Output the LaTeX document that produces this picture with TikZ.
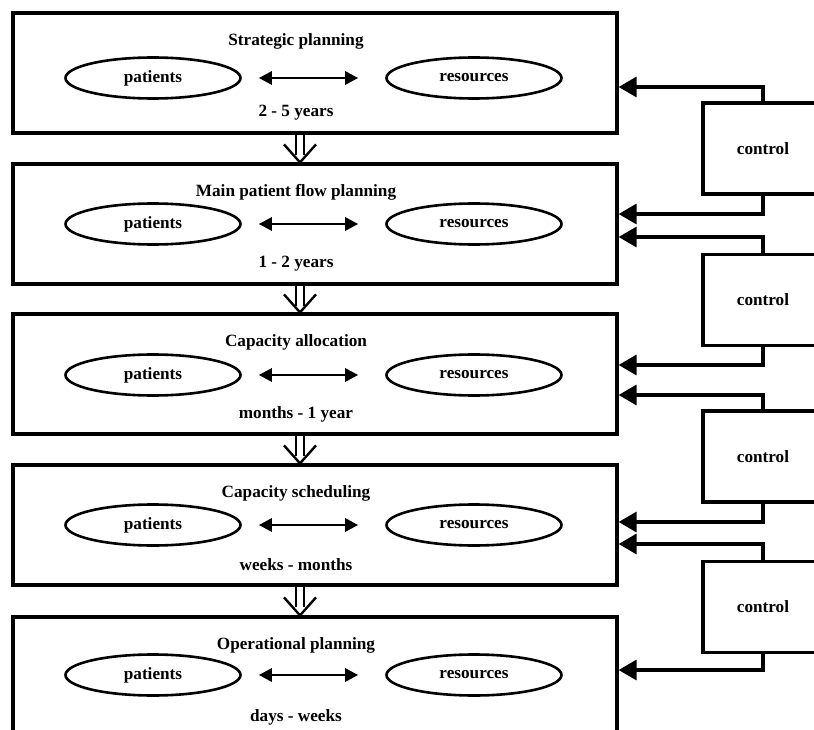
\documentclass[tikz,border=0pt]{standalone}
\usepackage{fontspec}
\setmainfont{Liberation Serif}
\usetikzlibrary{shapes.geometric,arrows.meta,calc}
\begin{document}
\begin{tikzpicture}[x=1pt,y=-1pt,
  every node/.style={font=\fontsize{17.2}{20}\selectfont\bfseries},
  stage/.style={draw, line width=3.2pt, minimum width=604pt, minimum height=120pt, inner sep=0pt},
  ctrlbox/.style={draw, line width=3.2pt, minimum width=120pt, minimum height=91pt, inner sep=0pt},
  oval/.style={draw, ellipse, line width=2.6pt, minimum width=175pt, minimum height=41pt, inner sep=0pt},
  linkarrow/.style={line width=2.8pt, {Triangle[length=13pt,width=13pt]}-{Triangle[length=13pt,width=13pt]}},
  feedarrow/.style={line width=3.2pt, -{Triangle[length=18pt,width=20pt]}},
  hollowarr/.style={line width=2.4pt}
]
\useasboundingbox (0,0) rectangle (814,730);
\clip (0,0) rectangle (814,730);

% planning levels: box, title, patients <-> resources, time horizon
\foreach \i/\cy/\oy/\ttl/\hor in {
  1/73/78/Strategic planning/2 - 5 years,
  2/224/224/Main patient flow planning/1 - 2 years,
  3/374/375/Capacity allocation/months - 1 year,
  4/525/525/Capacity scheduling/weeks - months,
  5/677/675/Operational planning/days - weeks}{
  \node[stage] (b\i) at (315,\cy) {};
  \node (t\i) at (296,\cy-32) {\ttl};
  \node (h\i) at (296,\cy+40) {\hor};
  \node[oval] (p\i) at (153,\oy) {patients};
  \node[oval] (r\i) at (474,\oy) {resources};
  \draw[linkarrow] ($(p\i.east)+(17,0)$) -- ($(r\i.west)+(-27,0)$);
}

% hollow downward arrows between successive levels
\foreach \a/\b in {1/2,2/3,3/4,4/5}{
  \draw[hollowarr] ($(b\a.south)+(-19,0)$) -- ++(0,20)
                   ($(b\a.south)+(-11,0)$) -- ++(0,20);
  \draw[hollowarr] ($(b\b.north)+(-31,-18)$) -- ($(b\b.north)+(-15,0)$) -- ($(b\b.north)+(1,-18)$);
}

% control blocks
\node[ctrlbox] (c1) at (763,148.5) {control};
\node[ctrlbox] (c2) at (763,300) {control};
\node[ctrlbox] (c3) at (763,456.5) {control};
\node[ctrlbox] (c4) at (763,607) {control};

% feedback from control blocks into the levels
\draw[feedarrow] (c1.north) |- ($(b1.east)+(0,14)$);
\draw[feedarrow] (c1.south) |- ($(b2.east)+(0,-10)$);
\draw[feedarrow] (c2.north) |- ($(b2.east)+(0,13)$);
\draw[feedarrow] (c2.south) |- ($(b3.east)+(0,-9)$);
\draw[feedarrow] (c3.north) |- ($(b3.east)+(0,21)$);
\draw[feedarrow] (c3.south) |- ($(b4.east)+(0,-3)$);
\draw[feedarrow] (c4.north) |- ($(b4.east)+(0,19)$);
\draw[feedarrow] (c4.south) |- ($(b5.east)+(0,-7)$);
\end{tikzpicture}
\end{document}
